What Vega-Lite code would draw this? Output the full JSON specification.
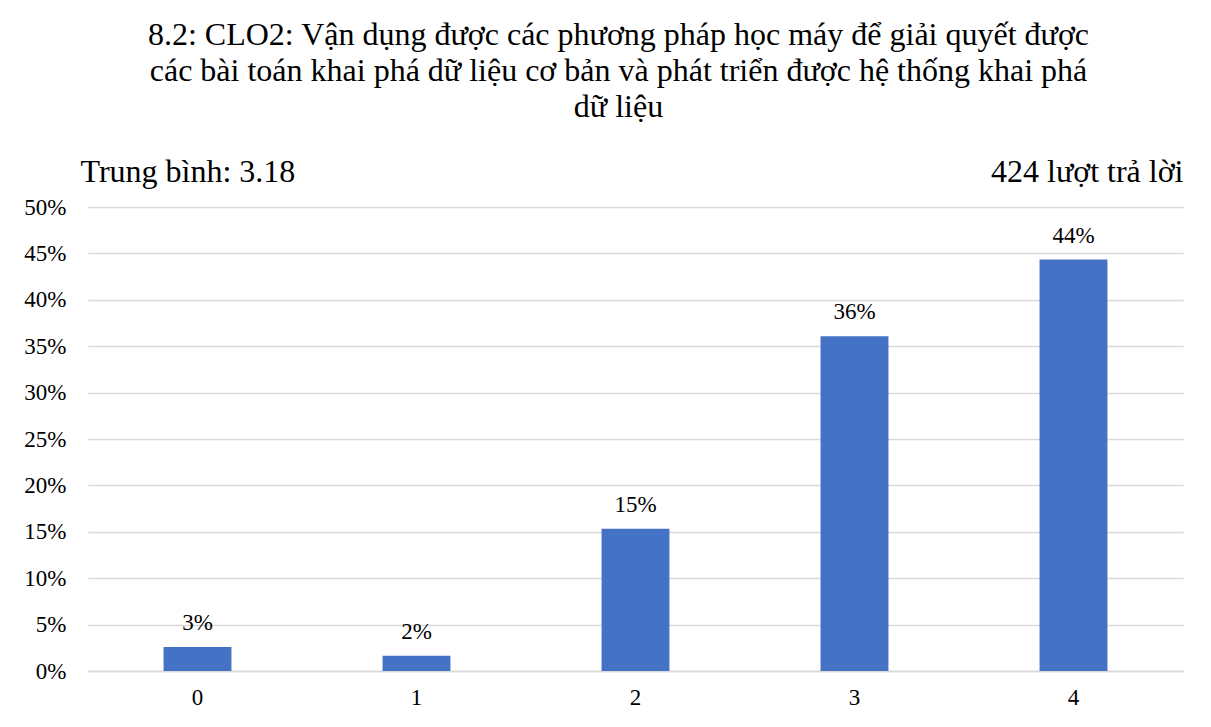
{
  "$schema": "https://vega.github.io/schema/vega-lite/v6.json",
  "autosize": {"type": "none"},
  "width": 1095,
  "height": 464,
  "padding": {"left": 88, "top": 207, "right": 28, "bottom": 56},
  "background": "white",
  "config": {
    "font": "Liberation Serif",
    "view": {"stroke": null},
    "axis": {"labelFont": "Liberation Serif", "titleFont": "Liberation Serif", "labelColor": "#000000", "titleColor": "#000000"}
  },
  "title": {
    "text": ["8.2: CLO2: Vận dụng được các phương pháp học máy để giải quyết được", "các bài toán khai phá dữ liệu cơ bản và phát triển được hệ thống khai phá", "dữ liệu"],
    "font": "Liberation Serif",
    "fontSize": 32,
    "fontWeight": "normal",
    "color": "#000000",
    "lineHeight": 36,
    "anchor": "middle",
    "frame": "group",
    "dx": -17,
    "offset": 31
  },
  "data": {
    "values": [
      {"score": "0", "pct": 0.0259},
      {"score": "1", "pct": 0.0165},
      {"score": "2", "pct": 0.1533},
      {"score": "3", "pct": 0.3608},
      {"score": "4", "pct": 0.4434}
    ]
  },
  "encoding": {
    "x": {
      "field": "score",
      "type": "ordinal",
      "scale": {"paddingInner": 0.69, "paddingOuter": 0.345},
      "axis": {
        "title": null,
        "labelAngle": 0,
        "labelFontSize": 23,
        "labelPadding": 15,
        "ticks": false,
        "domain": true,
        "domainColor": "#d9d9d9",
        "domainWidth": 1.5
      }
    }
  },
  "layer": [
    {
      "mark": {"type": "bar", "color": "#4472C4"},
      "encoding": {
        "y": {
          "field": "pct",
          "type": "quantitative",
          "scale": {"domain": [0, 0.5], "nice": false},
          "axis": {
            "values": [0, 0.05, 0.1, 0.15, 0.2, 0.25, 0.3, 0.35, 0.4, 0.45, 0.5],
            "format": ".0%",
            "labelFontSize": 23,
            "labelPadding": 22,
            "ticks": false,
            "domain": false,
            "gridColor": "#d9d9d9",
            "gridWidth": 1.5,
            "title": "Trung bình: 3.18",
            "titleAngle": 0,
            "titleFontSize": 32,
            "titleFontWeight": "normal",
            "titleAlign": "left",
            "titleBaseline": "alphabetic",
            "titleX": -8,
            "titleY": -26
          }
        }
      }
    },
    {
      "mark": {"type": "text", "fontSize": 23, "baseline": "bottom", "dy": -12, "color": "#000000"},
      "encoding": {
        "y": {
          "field": "pct",
          "type": "quantitative",
          "scale": {"domain": [0, 0.5], "nice": false},
          "axis": {
            "orient": "right",
            "labels": false,
            "ticks": false,
            "domain": false,
            "grid": false,
            "title": "424 lượt trả lời",
            "titleAngle": 0,
            "titleFontSize": 32,
            "titleFontWeight": "normal",
            "titleAlign": "right",
            "titleBaseline": "alphabetic",
            "titleX": 0,
            "titleY": -26
          }
        },
        "text": {"field": "pct", "type": "quantitative", "format": ".0%"}
      }
    }
  ],
  "resolve": {"scale": {"y": "independent"}}
}
